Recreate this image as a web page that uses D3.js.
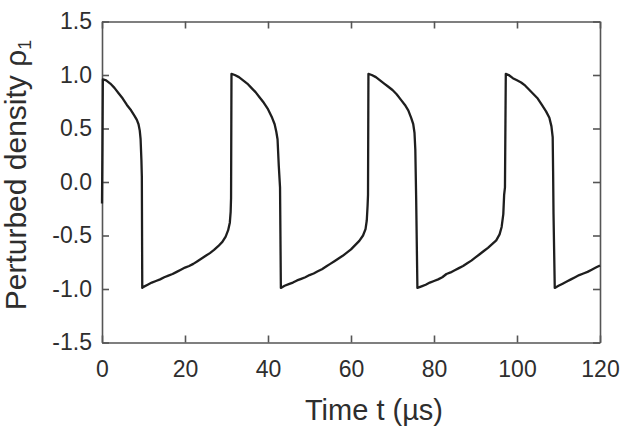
<!DOCTYPE html>
<html>
<head>
<meta charset="utf-8">
<script src="https://cdn.jsdelivr.net/npm/d3@7"></script>
<style>
  html, body { margin: 0; padding: 0; background: #fff; }
  svg { display: block; font-family: "Liberation Sans", Arial, Helvetica, sans-serif; }
</style>
</head>
<body>
<svg id="chart" width="620" height="427"></svg>
<script>
// ---- data ----
const timeUs = [
  0, 0.1, 0.2, 1, 2, 3, 4, 5, 6, 7, 7.8, 8.4, 8.8, 9.1, 9.3, 9.5, 9.6, 9.7,
  10, 11, 12, 13, 14, 15, 16, 17, 18, 19, 20, 21, 22, 23, 24, 25, 26, 27, 28, 29, 29.8, 30.4, 30.8, 31.0, 31.1, 31.2,
  32, 33, 34, 35, 36, 37, 38, 39, 40, 41, 41.6, 42.0, 42.3, 42.6, 42.9, 43.1,
  44, 45, 46, 47, 48, 49, 50, 51, 52, 53, 54, 55, 56, 57, 58, 59, 60, 61, 62, 62.9, 63.5, 63.8, 64.0, 64.1, 64.2,
  65, 66, 67, 68, 69, 70, 71, 72, 73, 73.8, 74.5, 75.0, 75.3, 75.5, 75.7, 76.0,
  77, 78, 79, 80, 81, 82, 83, 84, 85, 86, 87, 88, 89, 90, 91, 92, 93, 94, 95, 95.8, 96.3, 96.7, 96.9, 97.1, 97.3,
  98, 99, 100, 101, 102, 103, 104, 105, 106, 107, 107.8, 108.3, 108.6, 108.7, 108.8, 109.1,
  110, 111, 112, 113, 114, 115, 116, 117, 118, 119, 120
];
const rho = [
  -0.20, 0.30, 0.96, 0.95, 0.92, 0.88, 0.83, 0.78, 0.72, 0.67, 0.62, 0.58, 0.54, 0.48, 0.40, 0.20, 0.05, -0.99,
  -0.98, -0.96, -0.94, -0.925, -0.91, -0.89, -0.875, -0.86, -0.84, -0.82, -0.80, -0.785, -0.765, -0.74, -0.715, -0.69, -0.665, -0.635, -0.60, -0.56, -0.51, -0.45, -0.38, -0.28, -0.15, 1.01,
  1.00, 0.98, 0.95, 0.92, 0.88, 0.84, 0.79, 0.74, 0.68, 0.60, 0.54, 0.47, 0.40, 0.15, -0.05, -0.99,
  -0.97, -0.955, -0.94, -0.92, -0.905, -0.89, -0.87, -0.855, -0.835, -0.815, -0.79, -0.765, -0.74, -0.715, -0.69, -0.66, -0.63, -0.59, -0.55, -0.50, -0.44, -0.36, -0.22, -0.12, 1.01,
  1.00, 0.98, 0.95, 0.92, 0.89, 0.86, 0.82, 0.77, 0.72, 0.67, 0.60, 0.54, 0.46, 0.30, -0.15, -0.99,
  -0.975, -0.96, -0.94, -0.925, -0.91, -0.89, -0.86, -0.845, -0.825, -0.805, -0.785, -0.76, -0.735, -0.705, -0.675, -0.645, -0.615, -0.58, -0.545, -0.49, -0.42, -0.30, -0.12, -0.05, 1.01,
  1.00, 0.97, 0.95, 0.93, 0.90, 0.86, 0.82, 0.78, 0.72, 0.66, 0.60, 0.52, 0.42, 0.10, -0.30, -0.99,
  -0.97, -0.95, -0.93, -0.91, -0.89, -0.87, -0.855, -0.84, -0.82, -0.80, -0.78
];
const xTicks = [0, 20, 40, 60, 80, 100, 120];
const yTicks = [-1.5, -1.0, -0.5, 0.0, 0.5, 1.0, 1.5];
const xLabel = "Time t (\u00b5s)";
const yLabelMain = "Perturbed density \u03c1";
const yLabelSub = "1";

// ---- layout ----
const svg = d3.select("#chart");
const plot = { left: 102, right: 600, top: 21.5, bottom: 342.5 };

const x = d3.scaleLinear().domain([0, 120]).range([plot.left, plot.right]);
const y = d3.scaleLinear().domain([-1.5, 1.5]).range([plot.bottom, plot.top]);

const frameColor = "#555";
const textColor = "#2e2e2e";

function styleAxis(g) {
  g.attr("font-family", null).attr("font-size", null);
  g.selectAll(".domain").attr("stroke", frameColor).attr("stroke-width", 1.6);
  g.selectAll(".tick line").attr("stroke", frameColor).attr("stroke-width", 1.6);
  g.selectAll(".tick text").attr("fill", textColor).style("font-size", "23px");
}

// bottom axis with labels
svg.append("g")
  .attr("transform", `translate(0,${plot.bottom})`)
  .call(d3.axisBottom(x).tickValues(xTicks).tickFormat(d => String(d))
        .tickSizeInner(-7).tickSizeOuter(0).tickPadding(18))
  .call(styleAxis);

// left axis with labels (plain hyphen minus as in the reference)
svg.append("g")
  .attr("transform", `translate(${plot.left},0)`)
  .call(d3.axisLeft(y).tickValues(yTicks).tickFormat(d => d.toFixed(1))
        .tickSizeInner(-7).tickSizeOuter(0).tickPadding(10))
  .call(styleAxis);

// top axis (ticks only)
svg.append("g")
  .attr("transform", `translate(0,${plot.top})`)
  .call(d3.axisTop(x).tickValues(xTicks).tickFormat("")
        .tickSizeInner(-7).tickSizeOuter(0))
  .call(styleAxis);

// right axis (ticks only)
svg.append("g")
  .attr("transform", `translate(${plot.right},0)`)
  .call(d3.axisRight(y).tickValues(yTicks).tickFormat("")
        .tickSizeInner(-7).tickSizeOuter(0))
  .call(styleAxis);

// ---- curve ----
const pts = timeUs.map((t, i) => [t, rho[i]]);
svg.append("path")
  .datum(pts)
  .attr("fill", "none")
  .attr("stroke", "#1e1e1e")
  .attr("stroke-width", 2.3)
  .attr("stroke-linejoin", "round")
  .attr("d", d3.line().x(d => x(d[0])).y(d => y(d[1])).curve(d3.curveLinear));

// ---- axis titles ----
svg.append("text")
  .attr("x", 374)
  .attr("y", 420)
  .attr("text-anchor", "middle")
  .attr("fill", textColor)
  .style("font-size", "29px")
  .text(xLabel);

const yt = svg.append("text")
  .attr("transform", "translate(26,175) rotate(-90)")
  .attr("text-anchor", "middle")
  .attr("fill", textColor)
  .style("font-size", "30px");
yt.append("tspan").text(yLabelMain);
yt.append("tspan").attr("dy", 5).style("font-size", "18px").text(yLabelSub);
</script>
</body>
</html>
